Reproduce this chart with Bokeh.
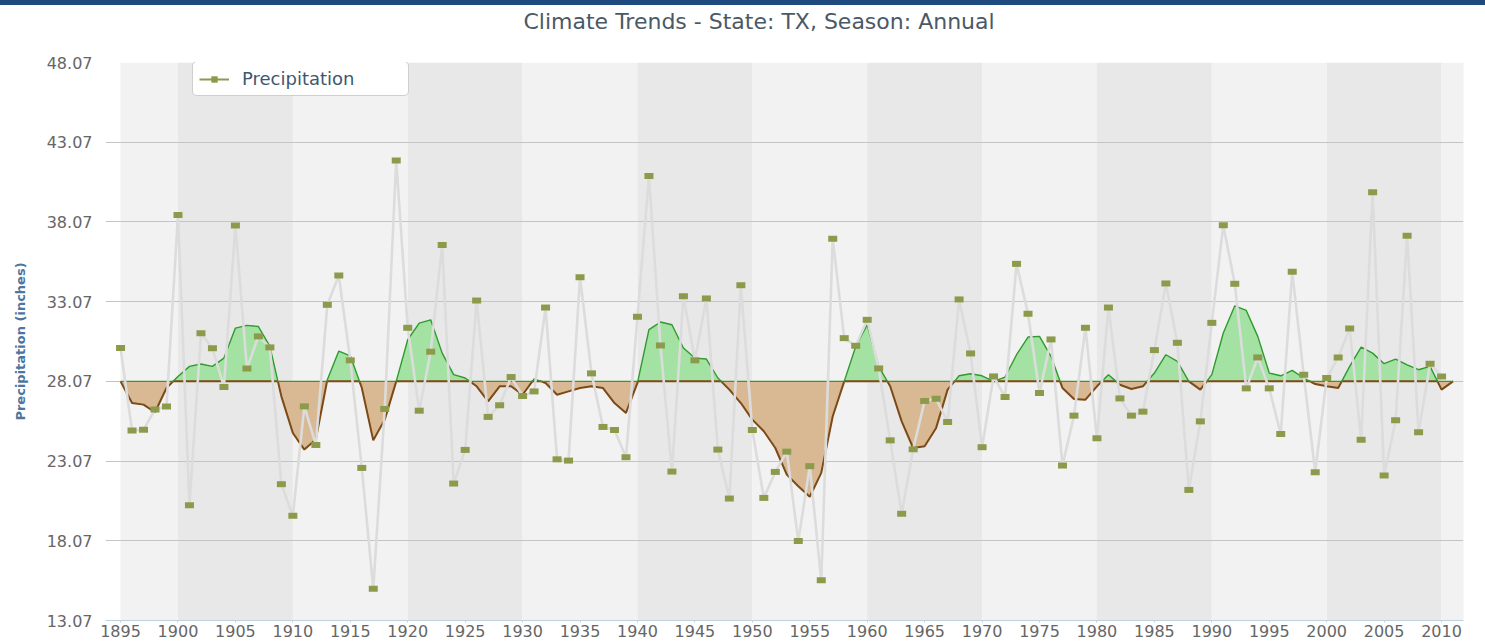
import numpy as np
from bokeh.plotting import figure
from bokeh.layouts import column
from bokeh.models import (Range1d, FixedTicker, Legend, LegendItem, Title, Div)
from bokeh.embed import file_html
from bokeh.resources import INLINE

# ---------------- data ----------------
title_text = "Climate Trends - State: TX, Season: Annual"
series_name = "Precipitation"
y_axis_title = "Precipitation (inches)"

years = list(range(1895, 2011))
precip = [
    30.16, 24.98, 25.04, 26.30, 26.50, 38.51, 20.30, 31.08, 30.14, 27.72,   # 1895-1904
    37.84, 28.88, 30.89, 30.20, 21.62, 19.64, 26.50, 24.08, 32.87, 34.71,   # 1905-1914
    29.39, 22.64, 15.06, 26.34, 41.93, 31.43, 26.23, 29.93, 36.63, 21.66,   # 1915-1924
    23.77, 33.14, 25.84, 26.57, 28.34, 27.15, 27.44, 32.70, 23.18, 23.10,   # 1925-1934
    34.60, 28.57, 25.21, 25.02, 23.31, 32.12, 40.95, 30.32, 22.41, 33.41,   # 1935-1944
    29.39, 33.27, 23.79, 20.72, 34.10, 25.02, 20.76, 22.39, 23.66, 18.05,   # 1945-1954
    22.75, 15.59, 37.01, 30.78, 30.30, 31.93, 28.88, 24.37, 19.76, 23.81,   # 1955-1964
    26.84, 26.98, 25.52, 33.21, 29.82, 23.94, 28.38, 27.09, 35.44, 32.31,   # 1965-1974
    27.34, 30.70, 22.79, 25.92, 31.43, 24.50, 32.70, 27.00, 25.92, 26.17,   # 1975-1984
    30.03, 34.21, 30.49, 21.26, 25.56, 31.74, 37.86, 34.19, 27.63, 29.57,   # 1985-1994
    27.63, 24.77, 34.94, 28.49, 22.37, 28.28, 29.57, 31.39, 24.40, 39.93,   # 1995-2004
    22.16, 25.63, 37.21, 24.88, 29.18, 28.38,                               # 2005-2010
]

baseline = 28.07
smooth_years = list(range(1895, 2012))
smooth_anom = [
    0.00, -1.36, -1.46, -1.94, -0.42, 0.31, 0.94, 1.09, 0.94, 1.46,        # 1895-1904
    3.34, 3.51, 3.44, 2.19, -0.94, -3.24, -4.28, -3.65, 0.10, 1.90,        # 1905-1914
    1.60, -0.40, -3.70, -2.40, 0.00, 2.61, 3.65, 3.86, 1.77, 0.42,         # 1915-1924
    0.21, -0.31, -1.25, -0.31, -0.31, -0.84, 0.15, -0.10, -0.84, -0.63,    # 1925-1934
    -0.42, -0.31, -0.42, -1.36, -1.98, -0.10, 3.24, 3.72, 3.55, 2.09,      # 1935-1944
    1.46, 1.40, 0.21, -0.52, -1.36, -2.40, -3.13, -4.18, -5.85, -6.58,     # 1945-1954
    -7.24, -5.74, -2.19, 0.00, 2.19, 3.55, 0.94, -0.31, -2.51, -4.18,      # 1955-1964
    -4.07, -2.92, -0.52, 0.35, 0.48, 0.35, 0.00, 0.27, 1.67, 2.78,         # 1965-1974
    2.82, 1.57, -0.42, -1.11, -1.15, -0.31, 0.42, -0.21, -0.48, -0.31,     # 1975-1984
    0.52, 1.67, 1.25, 0.00, -0.52, 0.42, 3.03, 4.74, 4.45, 2.82,           # 1985-1994
    0.52, 0.35, 0.69, 0.21, -0.17, -0.31, -0.42, 0.94, 2.15, 1.77,         # 1995-2004
    1.11, 1.40, 1.04, 0.73, 0.94, -0.52, 0.00,                             # 2005-2011
]

y_ticks = [13.07, 18.07, 23.07, 28.07, 33.07, 38.07, 43.07, 48.07]
y_tick_labels = ["13.07", "18.07", "23.07", "28.07", "33.07", "38.07", "43.07", "48.07"]
x_ticks = list(range(1895, 2011, 5))
band_starts = [1895, 1900, 1910, 1920, 1930, 1940, 1950, 1960, 1970, 1980, 1990, 2000, 2010]
band_ends = [1900, 1910, 1920, 1930, 1940, 1950, 1960, 1970, 1980, 1990, 2000, 2010, 2012]

# ---------------- figure ----------------
x_start, x_end = 1893.69, 2011.91
y_start, y_end = y_ticks[0], y_ticks[-1]

p = figure(width=1485, height=638, output_backend="svg", toolbar_location=None,
           x_range=Range1d(x_start, x_end), y_range=Range1d(y_start, y_end),
           min_border_left=105, min_border_right=22, min_border_top=57,
           min_border_bottom=23, tools="", title=None)
p.outline_line_color = None
p.background_fill_color = "white"
p.border_fill_color = "white"

# title: a blank spacer next to the frame, then the title above it
p.add_layout(Title(text=" ", standoff=0, text_font_size="24px"), "above")
p.add_layout(Title(text=title_text, align="left", offset=418, standoff=0,
                   vertical_align="bottom",
                   text_font="DejaVu Sans", text_font_size="22px",
                   text_font_style="normal", text_color="#4b5966"), "above")

# alternating background bands
band_colors = ["#f2f2f2" if i % 2 == 0 else "#e8e8e8" for i in range(len(band_starts))]
p.quad(left=band_starts, right=band_ends, bottom=y_start, top=y_end,
       fill_color=band_colors, line_color=None, level="image")

# grid
p.xgrid.visible = False
p.ygrid.ticker = FixedTicker(ticks=y_ticks)
p.ygrid.grid_line_color = "#c4c4c4"
p.ygrid.grid_line_width = 1

# smoothed anomaly areas (zero crossings inserted for clean fills)
sx, sa = [], []
for i, (yr, a) in enumerate(zip(smooth_years, smooth_anom)):
    if i > 0:
        a0 = smooth_anom[i - 1]
        if a0 * a < 0:
            t = a0 / (a0 - a)
            sx.append(smooth_years[i - 1] + t)
            sa.append(0.0)
    sx.append(yr)
    sa.append(a)
sa = np.array(sa)
pos = baseline + np.maximum(sa, 0)
neg = baseline + np.minimum(sa, 0)

p.varea(x=sx, y1=baseline, y2=pos, fill_color="#a3e2a3")
p.varea(x=sx, y1=neg, y2=baseline, fill_color="#d9b994")
p.line(x=sx, y=neg, line_color="#7b4a16", line_width=2)
p.line(x=sx, y=pos, line_color="#2f9a2f", line_width=1.4)

# data line and markers
p.line(x=years, y=precip, line_color="#dcdcdc", line_width=2.6)
p.rect(x=years, y=precip, width=9, height=6, width_units="screen",
       height_units="screen", fill_color="#8b9b4b", line_color=None)

# legend (renderers with a single NaN row: nothing drawn in the plot)
nan = float("nan")
leg_line = p.line(x=[nan], y=[nan], line_color="#8b9b4b", line_width=2)
leg_sq = p.scatter(x=[nan], y=[nan], marker="square", size=7, fill_color="#8b9b4b",
                   line_color=None)
legend = Legend(items=[LegendItem(label=series_name, renderers=[leg_line, leg_sq])],
                location=(87, 524), orientation="vertical")
legend.border_line_color = "#a0a0a0"
legend.border_line_width = 1
legend.border_radius = 5
legend.background_fill_color = "white"
legend.background_fill_alpha = 1
legend.label_text_font = "DejaVu Sans"
legend.label_text_font_size = "18px"
legend.label_text_color = "#3E576F"
legend.glyph_width = 30
legend.glyph_height = 16
legend.label_standoff = 13
legend.padding = 6
legend.margin = 0
legend.spacing = 0
legend.label_width = 160
p.add_layout(legend)

# axes
p.xaxis.ticker = FixedTicker(ticks=x_ticks)
p.xaxis.axis_line_color = "#C0D0E0"
p.xaxis.major_tick_line_color = "#C0D0E0"
p.xaxis.major_tick_out = 2
p.xaxis.major_tick_in = 0
p.xaxis.minor_tick_line_color = None
p.xaxis.major_label_standoff = 2
p.xaxis.major_label_text_font = "DejaVu Sans"
p.xaxis.major_label_text_font_size = "16px"
p.xaxis.major_label_text_color = "#666666"

p.yaxis.ticker = FixedTicker(ticks=y_ticks)
p.yaxis.major_label_overrides = {t: l for t, l in zip(y_ticks, y_tick_labels)}
p.yaxis.axis_line_color = None
p.yaxis.major_tick_line_color = None
p.yaxis.minor_tick_line_color = None
p.yaxis.major_tick_out = 0
p.yaxis.major_tick_in = 0
p.yaxis.major_label_standoff = 13
p.yaxis.major_label_text_font = "DejaVu Sans"
p.yaxis.major_label_text_font_size = "16px"
p.yaxis.major_label_text_color = "#666666"
p.yaxis.axis_label = y_axis_title
p.yaxis.axis_label_text_font = "DejaVu Sans"
p.yaxis.axis_label_text_font_size = "13px"
p.yaxis.axis_label_text_font_style = "bold"
p.yaxis.axis_label_text_color = "#4d759e"
p.yaxis.axis_label_standoff = 16

# dark header band above the chart
band = Div(text="", width=1485, height=5,
           styles={"background-color": "#1f4a80", "margin": "0", "padding": "0"})

layout = column(band, p, spacing=0)
open("out.html", "w").write(file_html(layout, INLINE, title=title_text))
